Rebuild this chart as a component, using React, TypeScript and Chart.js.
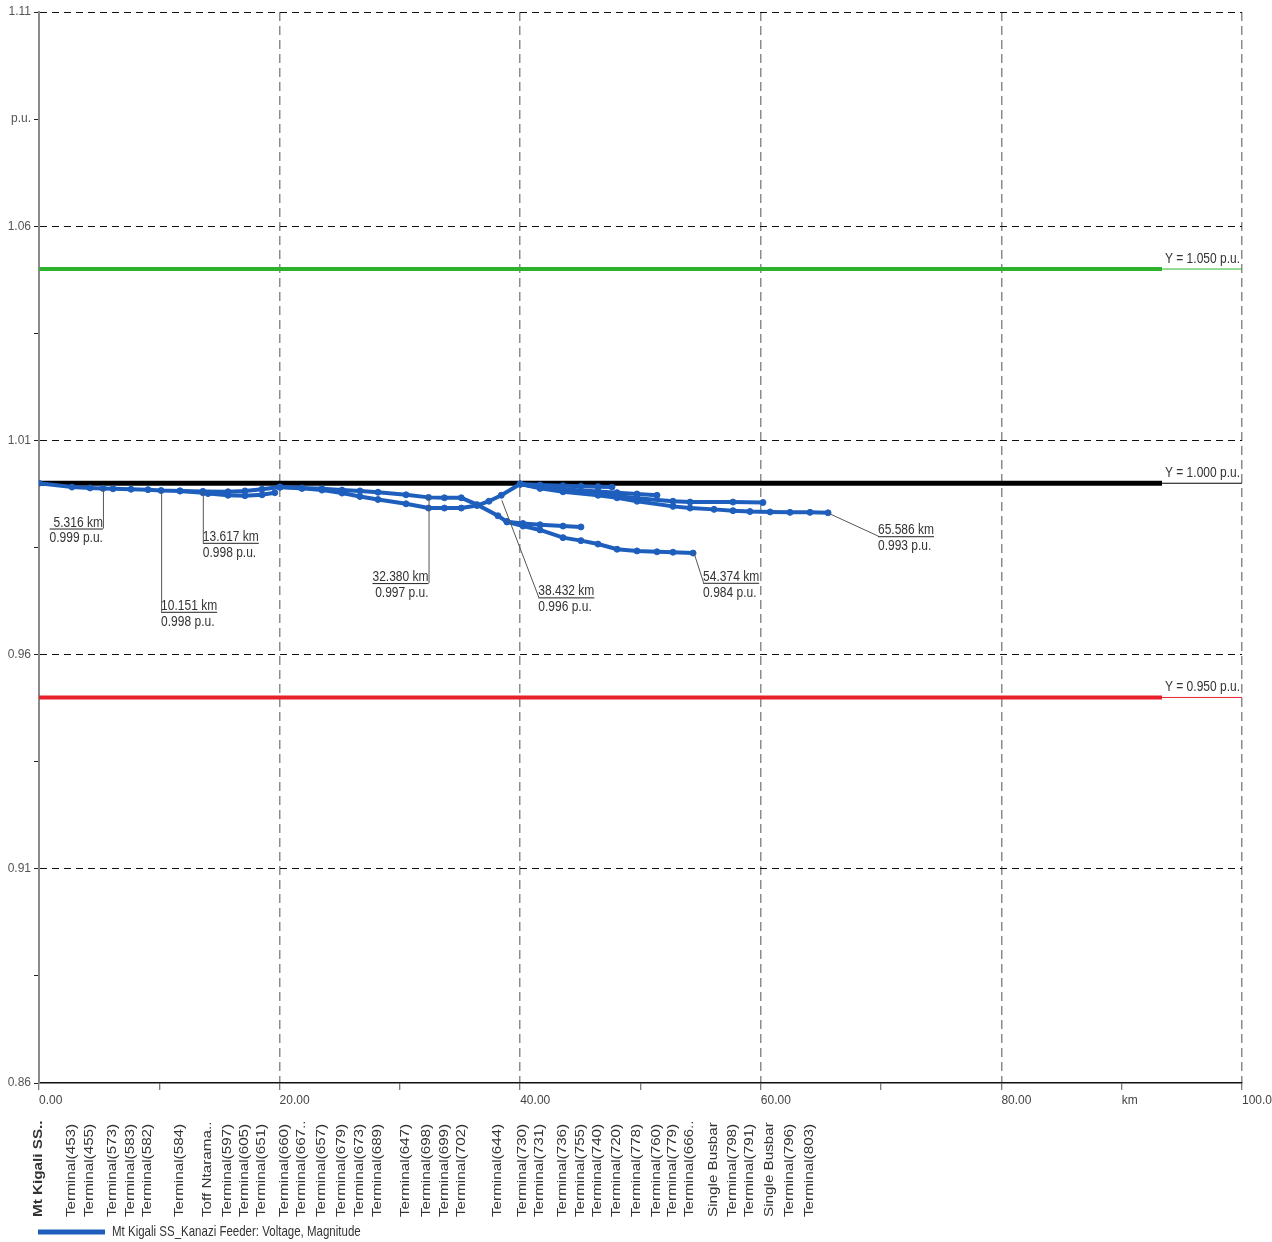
import React, { useEffect, useRef } from "react";
import { Chart, registerables } from "chart.js";

Chart.register(...registerables);

const FONT_FAMILY = "'Liberation Sans', Arial, Helvetica, sans-serif";
const TEXT_STRETCH = 1.27;
const BLUE = "#1e5fbe";
const TEXT_COLOR = "#333333";

// ---------- axes ----------
const xTickKm = [0, 10, 20, 30, 40, 50, 60, 70, 80, 90, 100];
const xTickLabels = ["0.00", "", "20.00", "", "40.00", "", "60.00", "", "80.00", "km", "100.0"];
const yTickPu = [0.86, 0.885, 0.91, 0.935, 0.96, 0.985, 1.01, 1.035, 1.06, 1.085, 1.11];
const yTickLabels = ["0.86", "", "0.91", "", "0.96", "", "1.01", "", "1.06", "p.u.", "1.11"];

// ---------- busbar names along the feeder (distance in km) ----------
const busNames = [
  "Mt Kigali SS..", "Terminal(453)", "Terminal(455)", "Terminal(573)", "Terminal(583)", "Terminal(582)",
  "Terminal(584)", "Toff Ntarama..", "Terminal(597)", "Terminal(605)", "Terminal(651)", "Terminal(660)",
  "Terminal(667..", "Terminal(657)", "Terminal(679)", "Terminal(673)", "Terminal(689)", "Terminal(647)",
  "Terminal(698)", "Terminal(699)", "Terminal(702)", "Terminal(644)", "Terminal(730)", "Terminal(731)",
  "Terminal(736)", "Terminal(755)", "Terminal(740)", "Terminal(720)", "Terminal(778)", "Terminal(760)",
  "Terminal(779)", "Terminal(666..", "Single Busbar", "Terminal(798)", "Terminal(791)", "Single Busbar",
  "Terminal(796)", "Terminal(803)",
];
const busKm = [
  0, 2.74, 4.24, 6.15, 7.65, 9.06,
  11.72, 14.05, 15.71, 17.12, 18.54, 20.45,
  21.86, 23.52, 25.19, 26.68, 28.18, 30.51,
  32.2, 33.7, 35.1, 38.15, 40.23, 41.65,
  43.56, 45.05, 46.47, 48.05, 49.71, 51.37,
  52.7, 54.12, 56.11, 57.69, 59.1, 60.77,
  62.43, 64.09,
];

// ---------- voltage profile branches (km, p.u.) ----------
const trunkKm = [0, 2.74, 4.24, 5.32, 6.15, 7.65, 9.06, 10.15, 11.72, 13.62, 15.71, 17.12, 18.54, 20.03];
const trunkPu = [1.0, 0.9991, 0.9989, 0.9988, 0.9987, 0.9986, 0.9985, 0.9983, 0.9982, 0.9981, 0.998, 0.9982, 0.9986, 0.9991];

const ntaramaKm = [11.72, 13.62, 14.05, 15.71, 17.12, 18.54, 19.6];
const ntaramaPu = [0.9982, 0.9978, 0.9976, 0.9972, 0.9971, 0.9973, 0.9978];

const upperKm = [20.03, 21.86, 23.52, 25.19, 26.68, 28.18, 30.51, 32.38, 33.7, 35.1, 36.41, 38.15, 38.9];
const upperPu = [0.9991, 0.9989, 0.9987, 0.9984, 0.9982, 0.9979, 0.9973, 0.9967, 0.9966, 0.9966, 0.995, 0.9924, 0.991];

const lowerKm = [20.03, 21.86, 23.52, 25.19, 26.68, 28.18, 30.51, 32.38, 33.7, 35.1, 36.41, 37.4, 38.43, 40.0];
const lowerPu = [0.9991, 0.9988, 0.9984, 0.9977, 0.9969, 0.9962, 0.9952, 0.9942, 0.9942, 0.9942, 0.9948, 0.9958, 0.9972, 0.9998];

const midKm = [38.9, 40.23, 41.65, 43.56, 45.05];
const midPu = [0.991, 0.9906, 0.9903, 0.99, 0.9898];

const lowKm = [38.9, 40.23, 41.65, 43.56, 45.05, 46.47, 48.05, 49.71, 51.37, 52.7, 54.37];
const lowPu = [0.991, 0.99, 0.9891, 0.9873, 0.9866, 0.9858, 0.9846, 0.9842, 0.984, 0.9839, 0.9837];

const b1Km = [40.0, 41.65, 43.56, 45.05, 46.47, 47.63];
const b1Pu = [0.9998, 0.9996, 0.9994, 0.9993, 0.9992, 0.9991];

const b2Km = [40.0, 41.65, 43.56, 46.47, 48.05, 49.71, 51.37];
const b2Pu = [0.9998, 0.9991, 0.9986, 0.9981, 0.9978, 0.9975, 0.9972];

const b3Km = [40.0, 41.65, 43.56, 46.47, 48.05, 49.71, 52.7, 54.12, 57.69, 60.18];
const b3Pu = [0.9998, 0.999, 0.9982, 0.9975, 0.997, 0.9965, 0.9958, 0.9956, 0.9956, 0.9955];

const b4Km = [40.0, 41.65, 43.56, 46.47, 48.05, 49.71, 52.7, 54.12, 56.11, 57.69, 59.1, 60.77, 62.43, 64.09, 65.59];
const b4Pu = [0.9998, 0.9988, 0.998, 0.9972, 0.9966, 0.9958, 0.9946, 0.9942, 0.9939, 0.9936, 0.9934, 0.9933, 0.9932, 0.9932, 0.9931];

const branchKm = [trunkKm, ntaramaKm, upperKm, lowerKm, midKm, lowKm, b1Km, b2Km, b3Km, b4Km];
const branchPu = [trunkPu, ntaramaPu, upperPu, lowerPu, midPu, lowPu, b1Pu, b2Pu, b3Pu, b4Pu];
const seriesLabel = "Mt Kigali SS_Kanazi Feeder: Voltage, Magnitude";

// ---------- limit lines ----------
const limitPu = [1.05, 1.0, 0.95];
const limitLabels = ["Y = 1.050 p.u.", "Y = 1.000 p.u.", "Y = 0.950 p.u."];
const limitColors = ["#2eb22e", "#000000", "#e8202a"];
const limitWidths = [4, 5, 4];
const limitThickEndKm = 93.35;
const xMaxKm = 100;

// ---------- callouts ----------
const calloutKm = [5.316, 10.151, 13.617, 32.38, 38.432, 54.374, 65.586];
const calloutPu = [0.999, 0.998, 0.998, 0.997, 0.996, 0.984, 0.993];
// pixel offsets of the label elbow from the marked point, and on which side the label sits
const calloutOffsets = [
  { dx: 0, dy: 41, side: "left" },
  { dx: 0, dy: 120, side: "right" },
  { dx: 0, dy: 51, side: "right" },
  { dx: 0, dy: 87, side: "left" },
  { dx: 37, dy: 97, side: "right" },
  { dx: 10, dy: 31, side: "right" },
  { dx: 50, dy: 23, side: "right" },
];

function drawText(
  ctx: CanvasRenderingContext2D,
  s: string,
  px: number,
  py: number,
  align: CanvasTextAlign,
  baseline: CanvasTextBaseline,
  font: string,
  color: string,
  rotated = false
) {
  ctx.save();
  ctx.translate(px, py);
  if (rotated) {
    ctx.rotate(-Math.PI / 2);
    ctx.scale(TEXT_STRETCH, 1);
  } else {
    ctx.scale(1, TEXT_STRETCH);
  }
  ctx.font = font;
  ctx.fillStyle = color;
  ctx.textAlign = align;
  ctx.textBaseline = baseline;
  ctx.fillText(s, 0, 0);
  ctx.restore();
}

const overlayPlugin = {
  id: "overlay",
  afterDraw(chart: any) {
    const ctx: CanvasRenderingContext2D = chart.ctx;
    const xs = chart.scales.x;
    const ys = chart.scales.y;
    const area = chart.chartArea;
    const font = `12px ${FONT_FAMILY}`;

    // limit line labels
    limitPu.forEach((v, i) => {
      const px = xs.getPixelForValue(xMaxKm) - 2;
      const py = ys.getPixelForValue(v) - 6;
      drawText(ctx, limitLabels[i], px, py, "right", "alphabetic", font, TEXT_COLOR);
    });

    // callouts
    calloutKm.forEach((km, i) => {
      const o = calloutOffsets[i];
      const px = xs.getPixelForValue(km);
      const py = ys.getPixelForValue(calloutPu[i]);
      const ex = px + o.dx;
      const ey = py + o.dy;
      const l1 = `${km.toFixed(3)} km`;
      const l2 = `${calloutPu[i].toFixed(3)} p.u.`;
      ctx.save();
      ctx.font = font;
      const w = Math.max(ctx.measureText(l1).width, ctx.measureText(l2).width);
      ctx.strokeStyle = "#555555";
      ctx.lineWidth = 1;
      ctx.beginPath();
      ctx.moveTo(px + 0.5, py);
      ctx.lineTo(ex + 0.5, ey);
      ctx.stroke();
      ctx.strokeStyle = "#222222";
      ctx.beginPath();
      const x0 = o.side === "left" ? ex - w : ex;
      ctx.moveTo(x0, ey + 0.5);
      ctx.lineTo(x0 + w, ey + 0.5);
      ctx.stroke();
      ctx.restore();
      const align: CanvasTextAlign = o.side === "left" ? "right" : "left";
      drawText(ctx, l1, ex, ey - 2, align, "alphabetic", font, TEXT_COLOR);
      drawText(ctx, l2, ex, ey + 2, align, "top", font, TEXT_COLOR);
    });

    // busbar names below the axis
    const yBottom = chart.height - 25;
    busNames.forEach((name, i) => {
      const px = xs.getPixelForValue(busKm[i]);
      const f = i === 0 ? `bold 12px ${FONT_FAMILY}` : font;
      drawText(ctx, name, px, yBottom, "left", "middle", f, TEXT_COLOR, true);
    });

    // legend
    const ly = chart.height - 10;
    ctx.save();
    ctx.strokeStyle = BLUE;
    ctx.lineWidth = 5;
    ctx.beginPath();
    ctx.moveTo(area.left - 1, ly);
    ctx.lineTo(area.left + 66, ly);
    ctx.stroke();
    ctx.restore();
    drawText(ctx, seriesLabel, area.left + 73, ly, "left", "middle", `11.5px ${FONT_FAMILY}`, TEXT_COLOR);
  },
};

const TRANSPARENT = "rgba(0,0,0,0)";

export default function App() {
  const canvasRef = useRef<HTMLCanvasElement | null>(null);

  useEffect(() => {
    if (!canvasRef.current) return;
    Chart.defaults.font.family = FONT_FAMILY;

    const branchSets = branchKm.map((kms, b) => ({
      label: seriesLabel,
      data: kms.map((k, i) => ({ x: k, y: branchPu[b][i] })),
      borderColor: BLUE,
      backgroundColor: BLUE,
      borderWidth: 4,
      pointRadius: 3,
      pointHoverRadius: 0,
      pointBorderWidth: 1,
      tension: 0,
    }));

    const limitSets: any[] = [];
    limitPu.forEach((v, i) => {
      limitSets.push({
        label: limitLabels[i],
        data: [
          { x: 0, y: v },
          { x: limitThickEndKm, y: v },
        ],
        borderColor: limitColors[i],
        backgroundColor: limitColors[i],
        borderWidth: limitWidths[i],
        pointRadius: 0,
      });
      limitSets.push({
        label: limitLabels[i],
        data: [
          { x: limitThickEndKm, y: v },
          { x: xMaxKm, y: v },
        ],
        borderColor: limitColors[i],
        backgroundColor: limitColors[i],
        borderWidth: 1,
        pointRadius: 0,
      });
    });

    const chart = new Chart(canvasRef.current, {
      type: "line",
      data: { datasets: [...branchSets, ...limitSets] as any },
      options: {
        animation: false,
        responsive: false,
        events: [],
        layout: { padding: { left: 0, right: 30, top: 12, bottom: 131 } },
        plugins: { legend: { display: false }, tooltip: { enabled: false } },
        scales: {
          x: {
            type: "linear",
            min: 0,
            max: xMaxKm,
            afterBuildTicks: (s: any) => {
              s.ticks = xTickKm.map((v) => ({ value: v }));
            },
            afterFit: (s: any) => {
              s.height = 28;
              s.paddingLeft = 0;
              s.paddingRight = 0;
            },
            ticks: {
              autoSkip: false,
              maxRotation: 0,
              minRotation: 0,
              align: "start",
              padding: 3,
              color: "#444444",
              font: { size: 12, family: FONT_FAMILY },
              callback: (_v: any, i: number) => xTickLabels[i],
            },
            grid: {
              color: (c: any) =>
                c.tick && c.tick.value % 20 === 0 && c.tick.value > 0 ? "#8c8c8c" : TRANSPARENT,
              lineWidth: 1.5,
              tickColor: "#555555",
              tickLength: 7,
              tickWidth: 1,
            },
            border: { display: true, color: "#111111", width: 1.5, dash: [9, 5] },
          },
          y: {
            type: "linear",
            min: 0.86,
            max: 1.11,
            afterBuildTicks: (s: any) => {
              s.ticks = yTickPu.map((v) => ({ value: v }));
            },
            afterFit: (s: any) => {
              s.width = 39;
            },
            ticks: {
              autoSkip: false,
              padding: 3,
              color: "#555555",
              font: { size: 12, family: FONT_FAMILY },
              callback: (_v: any, i: number) => yTickLabels[i],
            },
            grid: {
              color: (c: any) => (c.index % 2 === 0 && c.index > 0 ? "#111111" : TRANSPARENT),
              lineWidth: 1,
              tickColor: "#222222",
              tickLength: 5,
              tickWidth: 1,
            },
            border: { display: true, color: "#8a8a8a", width: 2, dash: [7, 5] },
          },
        },
      } as any,
      plugins: [overlayPlugin],
    });

    return () => chart.destroy();
  }, []);

  return (
    <div style={{ position: "absolute", left: 0, top: 0, width: 1272, height: 1242, background: "#ffffff" }}>
      <canvas ref={canvasRef} width={1272} height={1242} style={{ display: "block" }} />
    </div>
  );
}
